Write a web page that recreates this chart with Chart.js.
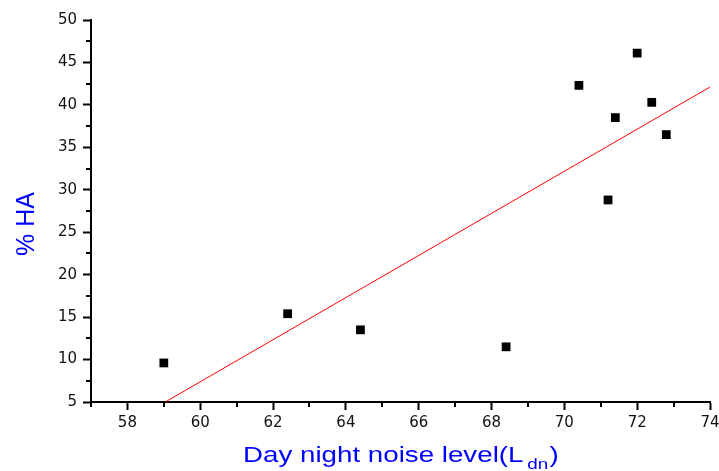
<!DOCTYPE html>
<html>
<head>
<meta charset="utf-8">
<script src="https://cdn.jsdelivr.net/npm/chart.js@4.4.0/dist/chart.umd.min.js"></script>
<style>
html,body{margin:0;padding:0;background:#fff;}
#wrap{width:719px;height:471px;}
</style>
</head>
<body>
<div id="wrap"><canvas id="c" width="719" height="471"></canvas></div>
<script>
// ---- data ----
const noiseLevel = [59.0, 62.4, 64.4, 68.4, 70.4, 72.0, 72.4, 71.4, 72.8, 71.2];
const pctHA      = [9.6, 15.4, 13.5, 11.5, 42.3, 46.1, 40.3, 38.5, 36.5, 28.8];
const fitX = [59.04, 74.0];
const fitY = [5.0, 42.1];
const xTicks = [58, 60, 62, 64, 66, 68, 70, 72, 74];
const yTicks = [5, 10, 15, 20, 25, 30, 35, 40, 45, 50];
const xMinorTicks = [57, 59, 61, 63, 65, 67, 69, 71, 73];
const yMinorTicks = [7.5, 12.5, 17.5, 22.5, 27.5, 32.5, 37.5, 42.5, 47.5];
const xTitleMain = 'Day night noise level(L';
const xTitleSub = 'dn';
const xTitleEnd = ')';
const yTitle = '% HA';

const points = noiseLevel.map((x, i) => ({x: x, y: pctHA[i]}));
const fitLine = fitX.map((x, i) => ({x: x, y: fitY[i]}));

const minorTicksPlugin = {
  id: 'minorTicks',
  afterDraw(chart) {
    const ctx = chart.ctx;
    const xs = chart.scales.x, ys = chart.scales.y;
    const area = chart.chartArea;
    ctx.save();
    ctx.strokeStyle = '#000';
    ctx.lineWidth = 2;
    ctx.beginPath();
    xMinorTicks.forEach(v => {
      const px = Math.round(xs.getPixelForValue(v));
      ctx.moveTo(px, area.bottom);
      ctx.lineTo(px, area.bottom + 5);
    });
    yMinorTicks.forEach(v => {
      const py = Math.round(ys.getPixelForValue(v));
      ctx.moveTo(area.left, py);
      ctx.lineTo(area.left - 5, py);
    });
    ctx.stroke();
    ctx.restore();
  }
};

const titlesPlugin = {
  id: 'titles',
  afterDraw(chart) {
    const ctx = chart.ctx;
    ctx.save();
    ctx.fillStyle = '#0000ff';
    // x-axis title, horizontally stretched like the reference
    ctx.translate(243, 462);
    ctx.scale(1.26, 1);
    ctx.textBaseline = 'alphabetic';
    ctx.textAlign = 'left';
    ctx.font = '22px "Liberation Sans", Arial, sans-serif';
    ctx.fillText(xTitleMain, 0, 0);
    let w = ctx.measureText(xTitleMain).width + 3;
    ctx.font = '15px "Liberation Sans", Arial, sans-serif';
    ctx.fillText(xTitleSub, w, 7);
    w += ctx.measureText(xTitleSub).width + 1;
    ctx.font = '22px "Liberation Sans", Arial, sans-serif';
    ctx.fillText(xTitleEnd, w, 0);
    ctx.restore();

    ctx.save();
    ctx.fillStyle = '#0000ff';
    ctx.translate(34, 224);
    ctx.rotate(-Math.PI / 2);
    ctx.textAlign = 'center';
    ctx.textBaseline = 'alphabetic';
    ctx.font = '25px "Liberation Sans", Arial, sans-serif';
    ctx.fillText(yTitle, 0, 0);
    ctx.restore();
  }
};

new Chart(document.getElementById('c'), {
  type: 'scatter',
  data: {
    datasets: [
      {
        type: 'line',
        label: 'fit',
        data: fitLine,
        borderColor: '#ff0000',
        borderWidth: 1,
        pointRadius: 0,
        fill: false,
        tension: 0
      },
      {
        label: '% HA',
        data: points,
        pointStyle: 'rect',
        pointRadius: 6.2,
        pointBackgroundColor: '#000',
        pointBorderColor: '#000',
        pointBorderWidth: 0,
        showLine: false
      }
    ]
  },
  options: {
    responsive: false,
    devicePixelRatio: 1,
    animation: false,
    events: [],
    layout: { padding: { left: 0, right: 9, top: 20, bottom: 0 } },
    plugins: {
      legend: { display: false },
      tooltip: { enabled: false },
      title: { display: false }
    },
    scales: {
      x: {
        type: 'linear',
        min: 57, max: 74,
        afterBuildTicks: s => { s.ticks = xTicks.map(v => ({value: v})); },
        afterFit: s => { s.height = 69; s.paddingLeft = 0; s.paddingRight = 0; },
        border: { display: true, color: '#000', width: 2 },
        grid: { display: true, drawOnChartArea: false, drawTicks: true, tickLength: 8, tickWidth: 2, tickColor: '#000', color: '#000' },
        ticks: {
          color: '#111',
          font: { family: '"DejaVu Sans"', size: 15 },
          padding: 4,
          maxRotation: 0,
          autoSkip: false,
          callback: v => String(v)
        }
      },
      y: {
        type: 'linear',
        min: 5, max: 50,
        afterBuildTicks: s => { s.ticks = yTicks.map(v => ({value: v})); },
        afterFit: s => { s.width = 91; s.paddingTop = 0; s.paddingBottom = 0; },
        border: { display: true, color: '#000', width: 2 },
        grid: { display: true, drawOnChartArea: false, drawTicks: true, tickLength: 8, tickWidth: 2, tickColor: '#000', color: '#000' },
        ticks: {
          color: '#111',
          font: { family: '"DejaVu Sans"', size: 15 },
          padding: 6,
          autoSkip: false,
          callback: v => String(v)
        }
      }
    }
  },
  plugins: [minorTicksPlugin, titlesPlugin]
});
</script>
</body>
</html>
